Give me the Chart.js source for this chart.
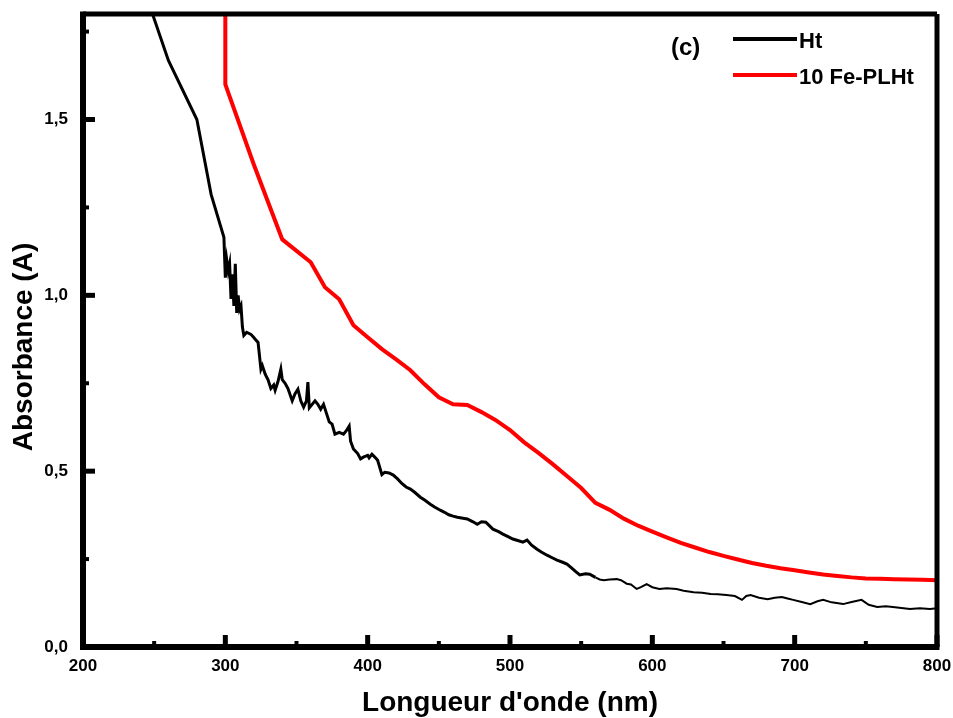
<!DOCTYPE html>
<html>
<head>
<meta charset="utf-8">
<script src="https://cdn.jsdelivr.net/npm/chart.js@4/dist/chart.umd.min.js"></script>
<style>
  body { margin: 0; background: #fff; }
  #wrap { width: 953px; height: 718px; }
</style>
</head>
<body>
<div id="wrap"><canvas id="absChart" width="953" height="718"></canvas></div>
<script>
// Ht spectrum
const htWavelength = [248, 260, 280, 290, 299, 300, 301, 302, 303, 304, 305, 306, 307, 308, 309, 310, 311, 312, 313, 315, 318, 320, 321, 323, 325, 326, 328, 330, 332, 334, 335, 337, 339, 340, 342, 344, 347, 349, 351, 353, 355, 357, 358, 359, 361, 363, 365, 367, 369, 371, 373, 375, 377, 380, 383, 385, 387, 388, 390, 393, 395, 397, 400, 401, 403, 405, 407, 410, 412, 415, 418, 421, 424, 427, 430, 433, 437, 440, 444, 447, 451, 454, 457, 460, 463, 467, 470, 474, 477, 480, 483, 486, 488, 492, 495, 499, 502, 506, 509, 512, 515, 519, 522, 526, 530, 533, 537, 540, 543, 546, 549, 553, 556, 560, 563, 566, 570, 575, 578, 582, 585, 589, 592, 596, 600, 605, 610, 617, 622, 629, 635, 641, 646, 652, 658, 663, 666, 669, 675, 681, 686, 691, 695, 699, 705, 711, 716, 720, 726, 734, 740, 747, 752, 758, 764, 769, 775, 781, 788, 795, 800];
const htAbsorbance = [1.81, 1.668, 1.50, 1.287, 1.165, 1.05, 1.10, 1.07, 1.09, 0.99, 1.06, 0.97, 1.09, 0.95, 1.00, 0.96, 0.97, 0.91, 0.886, 0.895, 0.889, 0.88, 0.875, 0.866, 0.79, 0.80, 0.776, 0.76, 0.735, 0.745, 0.73, 0.755, 0.79, 0.76, 0.75, 0.735, 0.70, 0.72, 0.733, 0.70, 0.682, 0.70, 0.753, 0.68, 0.69, 0.70, 0.69, 0.676, 0.69, 0.665, 0.64, 0.634, 0.605, 0.61, 0.605, 0.615, 0.628, 0.585, 0.563, 0.55, 0.535, 0.54, 0.545, 0.538, 0.548, 0.54, 0.531, 0.49, 0.497, 0.495, 0.489, 0.478, 0.465, 0.455, 0.449, 0.44, 0.426, 0.418, 0.406, 0.398, 0.389, 0.383, 0.376, 0.372, 0.369, 0.366, 0.364, 0.356, 0.349, 0.356, 0.355, 0.343, 0.335, 0.328, 0.321, 0.313, 0.307, 0.302, 0.298, 0.304, 0.29, 0.278, 0.27, 0.261, 0.253, 0.247, 0.241, 0.236, 0.226, 0.215, 0.205, 0.208, 0.207, 0.198, 0.192, 0.19, 0.192, 0.193, 0.19, 0.18, 0.178, 0.165, 0.17, 0.179, 0.17, 0.165, 0.167, 0.165, 0.16, 0.156, 0.154, 0.151, 0.15, 0.148, 0.145, 0.134, 0.145, 0.148, 0.14, 0.136, 0.14, 0.142, 0.138, 0.134, 0.128, 0.122, 0.13, 0.134, 0.127, 0.122, 0.128, 0.134, 0.12, 0.114, 0.116, 0.114, 0.111, 0.108, 0.11, 0.108, 0.11];

// 10 Fe-PLHt spectrum
const feWavelength = [300, 300, 320, 340, 360, 370, 380, 390, 400, 410, 420, 430, 440, 450, 460, 470, 480, 490, 500, 510, 520, 530, 540, 550, 560, 570, 580, 590, 600, 610, 620, 630, 640, 650, 660, 670, 680, 690, 700, 710, 720, 730, 740, 750, 760, 770, 780, 790, 800];
const feAbsorbance = [1.85, 1.60, 1.372, 1.159, 1.094, 1.023, 0.989, 0.915, 0.881, 0.847, 0.818, 0.787, 0.747, 0.710, 0.690, 0.688, 0.668, 0.645, 0.617, 0.582, 0.552, 0.52, 0.486, 0.452, 0.41, 0.39, 0.365, 0.345, 0.328, 0.312, 0.296, 0.283, 0.270, 0.259, 0.249, 0.239, 0.231, 0.224, 0.218, 0.212, 0.206, 0.202, 0.198, 0.195, 0.194, 0.193, 0.192, 0.191, 0.190];

const seriesNames = ['Ht', '10 Fe-PLHt'];
const seriesColors = ['#000000', '#ff0000'];

// axis ticks
const xTickValues = [200, 300, 400, 500, 600, 700, 800];
const xTickLabels = ['200', '300', '400', '500', '600', '700', '800'];
const xMinorTicks = [250, 350, 450, 550, 650, 750];
const yTickValues = [0, 0.5, 1.0, 1.5];
const yTickLabels = ['0,0', '0,5', '1,0', '1,5'];
const yMinorTicks = [0.25, 0.75, 1.25, 1.75];

const FONT = '"Liberation Sans", Arial, sans-serif';

function toPoints(xs, ys) {
  return xs.map((x, i) => ({ x: x, y: ys[i] }));
}

// frame, inward ticks, y title and the legend box
const framePlugin = {
  id: 'frame',
  afterDatasetsDraw(chart) {
    const ctx = chart.ctx;
    const a = chart.chartArea;
    const xs = chart.scales.x;
    const ys = chart.scales.y;
    ctx.save();
    ctx.strokeStyle = '#000';
    ctx.lineCap = 'butt';

    // ticks
    ctx.lineWidth = 5;
    xTickValues.forEach(v => {
      const px = xs.getPixelForValue(v);
      ctx.beginPath(); ctx.moveTo(px, a.bottom); ctx.lineTo(px, a.bottom - 12); ctx.stroke();
    });
    yTickValues.forEach(v => {
      const py = ys.getPixelForValue(v);
      ctx.beginPath(); ctx.moveTo(a.left, py); ctx.lineTo(a.left + 12, py); ctx.stroke();
    });
    ctx.lineWidth = 4;
    xMinorTicks.forEach(v => {
      const px = xs.getPixelForValue(v);
      ctx.beginPath(); ctx.moveTo(px, a.bottom); ctx.lineTo(px, a.bottom - 6); ctx.stroke();
    });
    yMinorTicks.forEach(v => {
      const py = ys.getPixelForValue(v);
      ctx.beginPath(); ctx.moveTo(a.left, py); ctx.lineTo(a.left + 6, py); ctx.stroke();
    });

    // frame
    ctx.lineWidth = 5;
    ctx.beginPath();
    ctx.moveTo(a.left, a.top); ctx.lineTo(a.right, a.top);
    ctx.moveTo(a.right, a.top); ctx.lineTo(a.right, a.bottom);
    ctx.stroke();
    ctx.lineWidth = 6;
    ctx.beginPath();
    ctx.moveTo(a.left, a.top - 2.5); ctx.lineTo(a.left, a.bottom + 3);
    ctx.moveTo(a.left - 3, a.bottom); ctx.lineTo(a.right + 2.5, a.bottom);
    ctx.stroke();

    // y axis title
    ctx.fillStyle = '#000';
    ctx.font = 'bold 28px ' + FONT;
    ctx.textAlign = 'center';
    ctx.textBaseline = 'middle';
    ctx.translate(24, 347);
    ctx.rotate(-Math.PI / 2);
    ctx.fillText('Absorbance (A)', 0, 0);
    ctx.restore();

    // legend
    ctx.save();
    ctx.fillStyle = '#000';
    ctx.textBaseline = 'middle';
    ctx.textAlign = 'left';
    ctx.font = 'bold 24px ' + FONT;
    ctx.fillText('(c)', 671, 48);
    ctx.font = 'bold 22px ' + FONT;
    chart.data.datasets.forEach((ds, i) => {
      const ly = 39 + i * 36;
      ctx.strokeStyle = ds.borderColor;
      ctx.lineWidth = 4;
      ctx.beginPath(); ctx.moveTo(733, ly); ctx.lineTo(797, ly); ctx.stroke();
      ctx.fillStyle = '#000';
      ctx.fillText(ds.label, 799, ly + 3);
    });
    ctx.restore();
  }
};

const ctx = document.getElementById('absChart').getContext('2d');
new Chart(ctx, {
  type: 'line',
  data: {
    datasets: [{
      label: seriesNames[0],
      data: toPoints(htWavelength, htAbsorbance),
      borderColor: seriesColors[0],
      borderWidth: 3,
      segment: { borderWidth: c => (c.p0.parsed.x >= 560 ? 2 : 3) },
      pointRadius: 0,
      tension: 0
    }, {
      label: seriesNames[1],
      data: toPoints(feWavelength, feAbsorbance),
      borderColor: seriesColors[1],
      borderWidth: 4,
      pointRadius: 0,
      tension: 0
    }]
  },
  options: {
    responsive: false,
    animation: false,
    devicePixelRatio: 1,
    layout: { padding: { left: 0, right: 16, top: 14, bottom: 0 } },
    plugins: {
      legend: { display: false },
      tooltip: { enabled: false }
    },
    scales: {
      x: {
        type: 'linear',
        min: 200,
        max: 800,
        grid: { display: false, drawTicks: false },
        border: { display: false },
        afterFit: s => { s.height = 71; s.paddingLeft = 0; s.paddingRight = 0; },
        afterBuildTicks: s => { s.ticks = xTickValues.map(v => ({ value: v })); },
        ticks: {
          padding: 9,
          maxRotation: 0,
          color: '#000',
          font: { family: FONT, size: 17, weight: 'bold' },
          callback: (v, i) => xTickLabels[i]
        },
        title: {
          display: true,
          text: "Longueur d'onde (nm)",
          color: '#000',
          font: { family: FONT, size: 28, weight: 'bold' },
          padding: { top: 0, bottom: -2 }
        }
      },
      y: {
        type: 'linear',
        min: 0,
        max: 1.8,
        grid: { display: false, drawTicks: false },
        border: { display: false },
        afterFit: s => { s.width = 83; s.paddingTop = 0; s.paddingBottom = 0; },
        afterBuildTicks: s => { s.ticks = yTickValues.map(v => ({ value: v })); },
        ticks: {
          padding: 15,
          color: '#000',
          font: { family: FONT, size: 17, weight: 'bold' },
          callback: (v, i) => yTickLabels[i]
        }
      }
    }
  },
  plugins: [framePlugin]
});
</script>
</body>
</html>
